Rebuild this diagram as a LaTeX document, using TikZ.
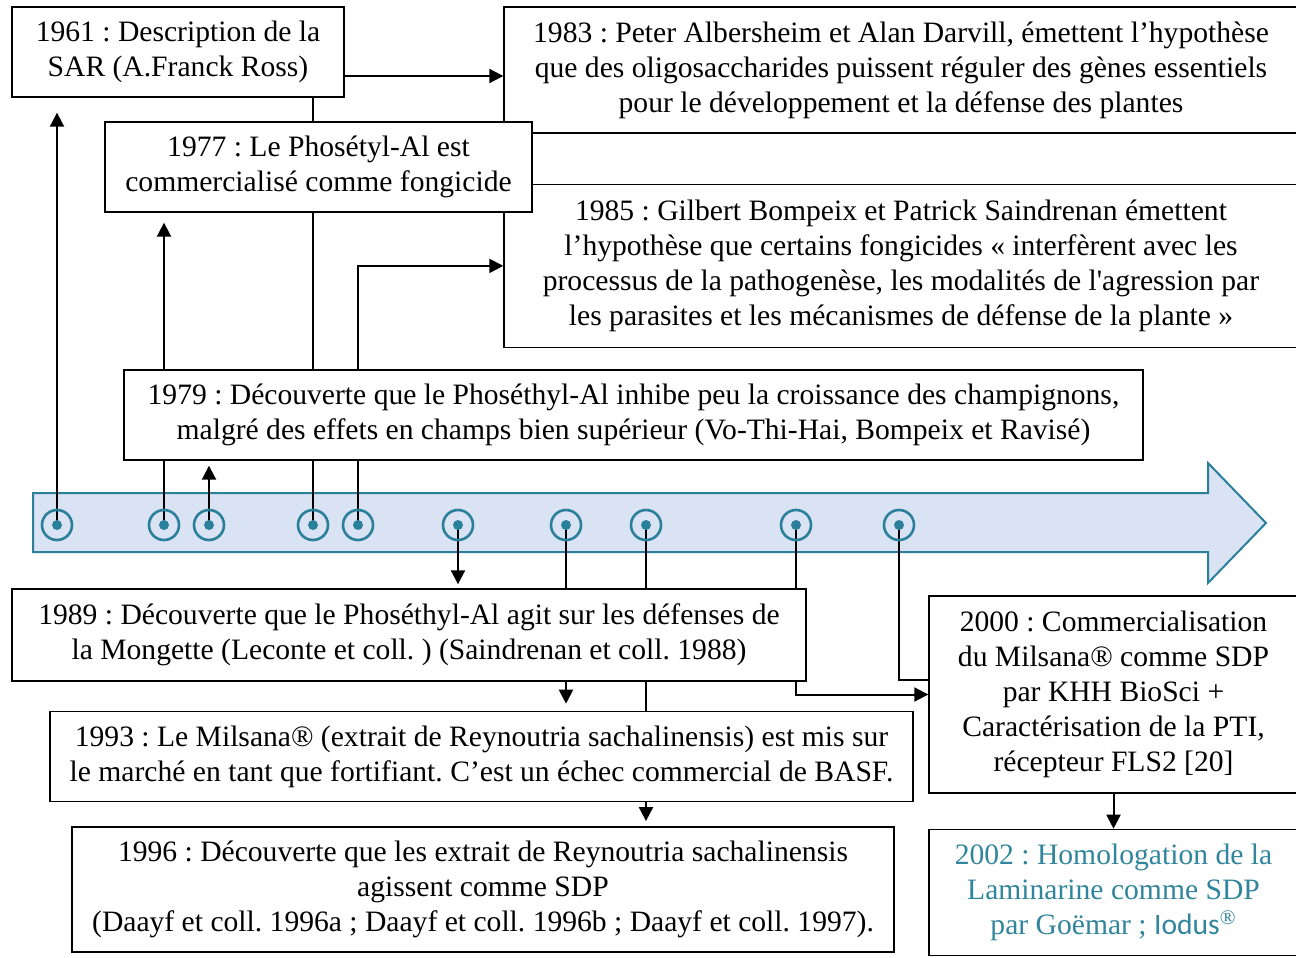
\documentclass[tikz,border=0pt]{standalone}
\usepackage{fontspec}
\setmainfont{Liberation Serif}
\newfontfamily\brandfont{Carlito}
\usetikzlibrary{positioning, arrows.meta}

\definecolor{axisfill}{HTML}{DAE3F3}
\definecolor{axisline}{HTML}{2A7F9B}
\definecolor{tealtext}{HTML}{31859C}
\newcommand{\evfont}{\fontsize{14.8pt}{17.5pt}\selectfont\frenchspacing}

\pgfdeclarelayer{axis}
\pgfdeclarelayer{links}
\pgfsetlayers{axis,links,main}

\tikzset{
  event/.style={draw, line width=0.7pt, fill=white, align=center, inner sep=0pt, font=\evfont},
  dotmark/.style={circle, draw=axisline, line width=1.3pt, minimum size=15pt, inner sep=0pt,
    path picture={\fill[axisline] (path picture bounding box.center) circle (2.5pt);}},
  link/.style={line width=1pt},
  linkarrow/.style={link, -{Triangle[length=7pt, width=7pt]}}
}

\begin{document}
\begin{tikzpicture}[x=0.5pt, y=-0.5pt]
  \useasboundingbox (0,0) rectangle (1296,958);

  % Events above the axis
  \node[event, minimum width=166pt, minimum height=45pt] (b61) at (178,52) {1961 : Description de la\\SAR (A.Franck Ross)};
  \node[event, minimum width=397pt, minimum height=63pt] (b83) at (901,70) {1983 : Peter Albersheim et Alan Darvill, émettent l’hypothèse\\que des oligosaccharides puissent réguler des gènes essentiels\\pour le développement et la défense des plantes};
  \node[event, minimum width=397pt, minimum height=81.5pt, below=25pt of b83] (b85) {1985 : Gilbert Bompeix et Patrick Saindrenan émettent\\l’hypothèse que certains fongicides « interfèrent avec les\\processus de la pathogenèse, les modalités de l\textquotesingle agression par\\les parasites et les mécanismes de défense de la plante »};
  \node[event, minimum width=213.5pt, minimum height=45pt] (b77) at (318.5,167) {1977 : Le Phosétyl-Al est\\commercialisé comme fongicide};
  \node[event, minimum width=509.5pt, minimum height=45pt] (b79) at (633.5,415) {1979 : Découverte que le Phoséthyl-Al inhibe peu la croissance des champignons,\\malgré des effets en champs bien supérieur (Vo-Thi-Hai, Bompeix et Ravisé)};

  % Events below the axis
  \node[event, minimum width=397pt, minimum height=46pt] (b89) at (409,635) {1989 : Découverte que le Phoséthyl-Al agit sur les défenses de\\la Mongette (Leconte et coll. ) (Saindrenan et coll. 1988)};
  \node[event, minimum width=431.5pt, minimum height=45pt, below=14.5pt of b89, xshift=36.25pt] (b93) {1993 : Le Milsana® (extrait de Reynoutria sachalinensis) est mis sur\\le marché en tant que fortifiant. C’est un échec commercial de BASF.};
  \node[event, minimum width=411pt, minimum height=62.5pt, below=12pt of b93, xshift=0.75pt] (b96) {1996 : Découverte que les extrait de Reynoutria sachalinensis\\agissent comme SDP\\(Daayf et coll. 1996a ; Daayf et coll. 1996b ; Daayf et coll. 1997).};
  \node[event, minimum width=184.5pt, minimum height=98.5pt] (b00) at (1113.5,694.5) {2000 : Commercialisation\\du Milsana® comme SDP\\par KHH BioSci +\\Caractérisation de la PTI,\\récepteur FLS2 [20]};
  \node[event, minimum width=184.5pt, minimum height=63pt, text=tealtext, below=17.5pt of b00] (b02) {2002 : Homologation de la\\Laminarine comme SDP\\par Goëmar ; {\brandfont Iodus}\textsuperscript{®}};

  \coordinate (a61) at ([yshift=-12pt]b61.east);
  \coordinate (j02) at ([yshift=7.5pt]b00.west);

  % Time axis
  \begin{pgfonlayer}{axis}
    \draw[axisline, fill=axisfill, line width=1pt] (33,493) -- (1208,493) -- (1208,463) -- (1266,523) -- (1208,583) -- (1208,552) -- (33,552) -- cycle;
  \end{pgfonlayer}
  \node[dotmark] (m61) at (57,525) {};
  \node[dotmark] (m77) at (164,525) {};
  \node[dotmark] (m79) at (209,525) {};
  \node[dotmark] (m83) at (313,525) {};
  \node[dotmark] (m85) at (358,525) {};
  \node[dotmark] (m89) at (458,525) {};
  \node[dotmark] (m93) at (566,525) {};
  \node[dotmark] (m96) at (646,525) {};
  \node[dotmark] (m00) at (796,525) {};
  \node[dotmark] (m02) at (899,525) {};

  % Links
  \begin{pgfonlayer}{links}
    \draw[linkarrow, shorten >=7.5pt] (m61.center) -- (m61 |- b61.south);
    \draw[linkarrow, shorten >=5pt] (m77.center) -- (m77 |- b77.south);
    \draw[linkarrow, shorten >=2.5pt] (m79.center) -- (m79 |- b79.south);
    \draw[link] (m83.center) -- (m83 |- b61.south);
    \draw[linkarrow] (m85.center) |- (b85.west);
    \draw[linkarrow] (a61) -- (a61 -| b83.west);
    \draw[linkarrow, shorten >=2pt] (m89.center) -- (m89 |- b89.north);
    \draw[linkarrow, shorten >=3.5pt] (m93.center) -- (m93 |- b93.north);
    \draw[linkarrow, shorten >=2.5pt] (m96.center) -- (m96 |- b96.north);
    \draw[linkarrow] (m00.center) |- (b00.west);
    \draw[link] (m02.center) |- (j02);
    \draw[linkarrow] (b00) -- (b02);
  \end{pgfonlayer}
\end{tikzpicture}
\end{document}
